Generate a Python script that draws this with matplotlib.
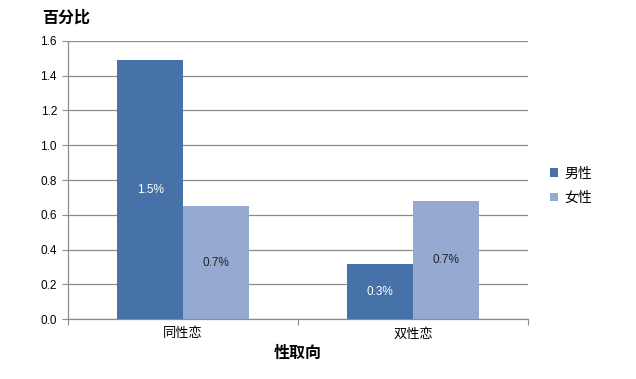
import matplotlib
matplotlib.use('Agg')
import matplotlib.pyplot as plt
import numpy as np

plt.rcParams['font.family'] = ['Noto Sans CJK SC', 'DejaVu Sans']

categories = ['同性恋', '双性恋']
male = [1.49, 0.317]
female = [0.65, 0.68]
male_labels = ['1.5%', '0.3%']
female_labels = ['0.7%', '0.7%']
yticks = [0.0, 0.2, 0.4, 0.6, 0.8, 1.0, 1.2, 1.4, 1.6]

MALE_C = '#4672A8'
FEMALE_C = '#94AAD0'
GRID_C = '#8C8C8C'
NUM_FONT = 'Liberation Sans'

fig = plt.figure(figsize=(6.36, 3.79), dpi=100)
ax = fig.add_axes([0.107, 0.158, 0.723, 0.734])

x = np.arange(len(categories))
w = 0.287
b1 = ax.bar(x - w / 2, male, w, color=MALE_C, label='男性', zorder=3)
b2 = ax.bar(x + w / 2, female, w, color=FEMALE_C, label='女性', zorder=3)

for rect, lab in zip(b1, male_labels):
    ax.text(rect.get_x() + rect.get_width() / 2, rect.get_height() / 2, lab,
            ha='center', va='center', color='white', fontsize=8.5, zorder=4,
            family=NUM_FONT)
for rect, lab in zip(b2, female_labels):
    ax.text(rect.get_x() + rect.get_width() / 2, rect.get_height() / 2, lab,
            ha='center', va='center', color='#222222', fontsize=8.5, zorder=4,
            family=NUM_FONT)

ax.set_xlim(-0.5, 1.5)
ax.set_ylim(0, 1.6)
ax.set_yticks(yticks)
ax.set_yticklabels([f'{v:.1f}' for v in yticks], fontsize=8.5, family=NUM_FONT)
ax.yaxis.grid(True, color=GRID_C, linewidth=0.9, zorder=0)
ax.set_axisbelow(True)

# category boundary ticks on the x-axis
ax.set_xticks([-0.5, 0.5, 1.5])
ax.set_xticklabels([])
ax.set_xticks(x, minor=True)
ax.set_xticklabels(categories, minor=True, fontsize=9.5)
ax.tick_params(axis='x', which='minor', length=0, pad=6)
ax.tick_params(axis='x', which='major', length=4, color=GRID_C)
ax.tick_params(axis='y', length=4, color=GRID_C, pad=4)

for s in ['top', 'right']:
    ax.spines[s].set_visible(False)
for s in ['left', 'bottom']:
    ax.spines[s].set_color(GRID_C)
    ax.spines[s].set_linewidth(0.9)

ax.set_xlabel('性取向', fontsize=11.5, fontweight='bold', labelpad=3)
fig.text(0.066, 0.953, '百分比', fontsize=11.5, fontweight='bold', ha='left', va='center')

fig.legend(handles=[b1, b2], loc='center left', bbox_to_anchor=(0.845, 0.51),
           frameon=False, fontsize=10, handlelength=0.55, handleheight=0.55,
           handletextpad=0.5, labelspacing=0.75)

fig.savefig('out.png', dpi=100, facecolor='white')
